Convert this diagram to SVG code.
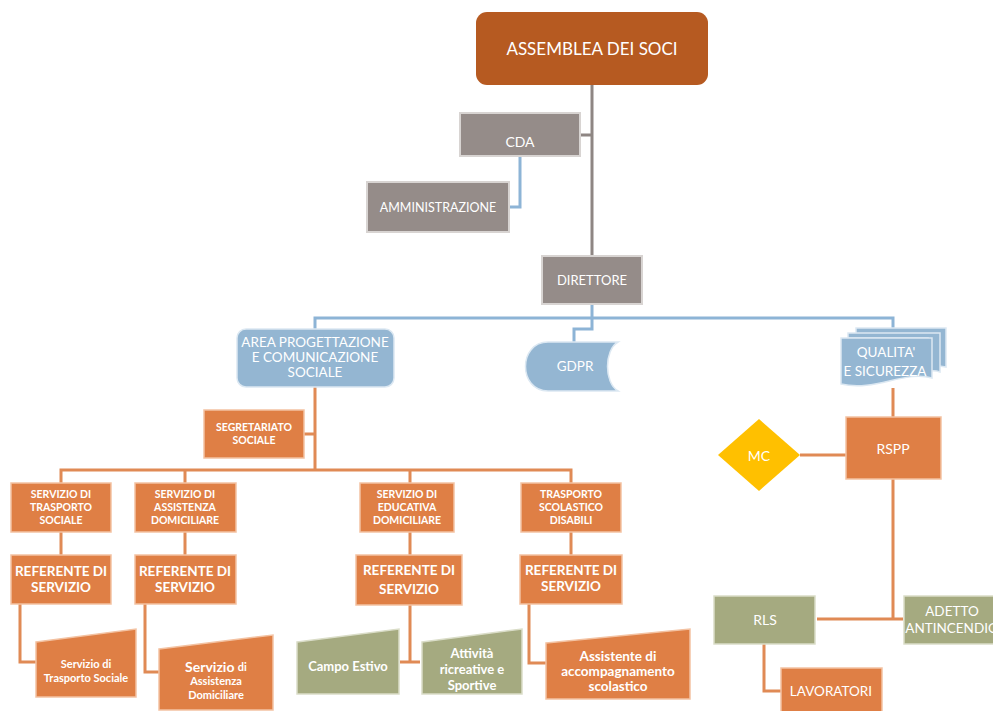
<svg xmlns="http://www.w3.org/2000/svg" width="993" height="711" viewBox="0 0 993 711">
<style>
text{font-family:Lato,"Open Sans","Liberation Sans",sans-serif;fill:#fff;text-anchor:middle;dominant-baseline:central}
.b{font-weight:bold}
.or{fill:#DF7F45;stroke:#F3C2A2;stroke-width:1.5}
.gr{fill:#958C89;stroke:#D8D4D2;stroke-width:2}
.bl{fill:#94B6D2;stroke:#DCE8F2;stroke-width:1.5}
.ol{fill:#A5AA80;stroke:#DADDC8;stroke-width:1.5}
.cg{stroke:#8E8683;stroke-width:3;fill:none}
.cb{stroke:#8DB4D6;stroke-width:3;fill:none}
.co{stroke:#E08A55;stroke-width:3;fill:none}
.rf{font-weight:bold;font-size:13.5px}
</style>
<rect width="993" height="711" fill="#fff"/>
<g id="connectors">
<path class="cg" d="M592,85 V256 M580,135 H592"/>
<path class="cb" d="M520,156 V207 H509"/>
<path class="cb" d="M592,304 V329 H574 V342 M315,329 V318 H893 V328"/>
<path class="co" d="M315,387 V470 M304,434 H315 M61,483 V470 H571 V483 M185,470 V483 M410,470 V483"/>
<path class="co" d="M61,532 V555 M185,532 V555 M410,532 V555 M571,532 V555"/>
<path class="co" d="M20,604 V662 H36 M145,604 V672 H159 M410,604 V662 M400,662 H420 M529,604 V663 H546"/>
<path class="co" d="M893,388 V417 M800,455 H846 M893,479 V619 M817,619 H903 M764,644 V691 H781"/>
</g>
<g id="assemblea"><rect x="476" y="12" width="232" height="73" rx="11" fill="#B65A21"/><text x="592" y="48" font-size="17">ASSEMBLEA DEI SOCI</text></g>
<g id="cda"><rect class="gr" x="460" y="113" width="120" height="43"/><text x="520" y="141" font-size="14">CDA</text></g>
<g id="amministrazione"><rect class="gr" x="367" y="182" width="142" height="50"/><text x="438" y="207" font-size="12.5">AMMINISTRAZIONE</text></g>
<g id="direttore"><rect class="gr" x="542" y="256" width="100" height="48"/><text x="592" y="280" font-size="13">DIRETTORE</text></g>
<g id="area"><rect class="bl" x="237" y="329" width="157" height="58" rx="9"/><text x="315" y="342" font-size="13.5">AREA PROGETTAZIONE</text><text x="315" y="357" font-size="13.5">E COMUNICAZIONE</text><text x="315" y="372" font-size="13.5">SOCIALE</text></g>
<g id="gdpr"><path class="bl" d="M548,342 H618 C604,350 604,383 618,391 H548 C518,391 518,342 548,342 Z"/><text x="575" y="366" font-size="13.5">GDPR</text></g>
<g id="qualita">
<path class="bl" stroke="#fff" d="M856,328 H946 V367 C936,365 930,366 925,367 V338 H856 Z"/>
<path class="bl" stroke="#fff" d="M848,333 H940 V372 C934,370 930,371 928,372 V338 H848 Z"/>
<path class="bl" stroke="#fff" d="M841,338 H932 V378 C905,370 875,392 841,384 Z"/>
<text x="886" y="352" font-size="13.5">QUALITA'</text><text x="885" y="371" font-size="13.5">E SICUREZZA</text></g>
<g id="rspp"><rect class="or" x="846" y="417" width="95" height="62"/><text x="893" y="448" font-size="14">RSPP</text></g>
<g id="mc"><path d="M759,419 L800,455 L759,491 L718,455 Z" fill="#FFC000"/><text x="759" y="455" font-size="14">MC</text></g>
<g id="rls"><rect class="ol" x="714" y="596" width="101" height="48"/><text x="765" y="619" font-size="14">RLS</text></g>
<g id="adetto"><rect class="ol" x="904" y="596" width="100" height="48"/><text x="952" y="611" font-size="13.5">ADETTO</text><text x="952" y="628" font-size="13.5">ANTINCENDIO</text></g>
<g id="lavoratori"><rect class="or" x="781" y="668" width="101" height="45"/><text x="831" y="691" font-size="13.5">LAVORATORI</text></g>
<g id="segretariato"><rect class="or" x="204" y="410" width="100" height="48"/><text class="b" x="254" y="427" font-size="10.5">SEGRETARIATO</text><text class="b" x="254" y="440" font-size="10.5">SOCIALE</text></g>
<g id="serv1"><rect class="or" x="11" y="483" width="100" height="49"/><text class="b" x="61" y="494" font-size="10.5">SERVIZIO DI</text><text class="b" x="61" y="507" font-size="10.5">TRASPORTO</text><text class="b" x="61" y="520" font-size="10.5">SOCIALE</text></g>
<g id="serv2"><rect class="or" x="135" y="483" width="101" height="49"/><text class="b" x="185" y="494" font-size="10.5">SERVIZIO DI</text><text class="b" x="185" y="507" font-size="10.5">ASSISTENZA</text><text class="b" x="185" y="520" font-size="10.5">DOMICILIARE</text></g>
<g id="serv3"><rect class="or" x="360" y="483" width="94" height="49"/><text class="b" x="407" y="494" font-size="10.5">SERVIZIO DI</text><text class="b" x="407" y="507" font-size="10.5">EDUCATIVA</text><text class="b" x="407" y="520" font-size="10.5">DOMICILIARE</text></g>
<g id="serv4"><rect class="or" x="521" y="483" width="100" height="49"/><text class="b" x="571" y="494" font-size="10.5">TRASPORTO</text><text class="b" x="571" y="507" font-size="10.5">SCOLASTICO</text><text class="b" x="571" y="520" font-size="10.5">DISABILI</text></g>
<g id="ref1"><rect class="or" x="11" y="555" width="100" height="49"/><text class="rf" x="61" y="571">REFERENTE DI</text><text class="rf" x="61" y="587">SERVIZIO</text></g>
<g id="ref2"><rect class="or" x="135" y="555" width="101" height="49"/><text class="rf" x="185" y="571">REFERENTE DI</text><text class="rf" x="185" y="587">SERVIZIO</text></g>
<g id="ref3"><rect class="or" x="356" y="555" width="106" height="50"/><text class="rf" x="409" y="570">REFERENTE DI</text><text class="rf" x="409" y="589">SERVIZIO</text></g>
<g id="ref4"><rect class="or" x="520" y="555" width="102" height="49"/><text class="rf" x="571" y="570">REFERENTE DI</text><text class="rf" x="571" y="586">SERVIZIO</text></g>
<g id="bt1"><path class="or" d="M36,642 L136,629 V697 H36 Z"/><text class="b" x="86" y="663" font-size="11">Servizio di</text><text class="b" x="86" y="677" font-size="11">Trasporto Sociale</text></g>
<g id="bt2"><path class="or" d="M159,649 L273,635 V710 H159 Z"/><text class="b" x="216" y="666" font-size="14">Servizio <tspan font-size="11">di</tspan></text><text class="b" x="216" y="680" font-size="11">Assistenza</text><text class="b" x="216" y="694" font-size="11">Domiciliare</text></g>
<g id="campo"><path class="ol" d="M297,642 L399,629 V694 H297 Z"/><text class="b" x="348" y="666" font-size="13">Campo Estivo</text></g>
<g id="attivita"><path class="ol" d="M422,642 L522,629 V694 H422 Z"/><text class="b" x="472" y="653" font-size="13">Attività</text><text class="b" x="472" y="669" font-size="13">ricreative e</text><text class="b" x="472" y="685" font-size="13">Sportive</text></g>
<g id="assistente"><path class="or" d="M546,643 L690,629 V699 H546 Z"/><text class="b" x="618" y="656" font-size="13.5">Assistente di</text><text class="b" x="618" y="671" font-size="13.5">accompagnamento</text><text class="b" x="618" y="686" font-size="13.5">scolastico</text></g>
</svg>
